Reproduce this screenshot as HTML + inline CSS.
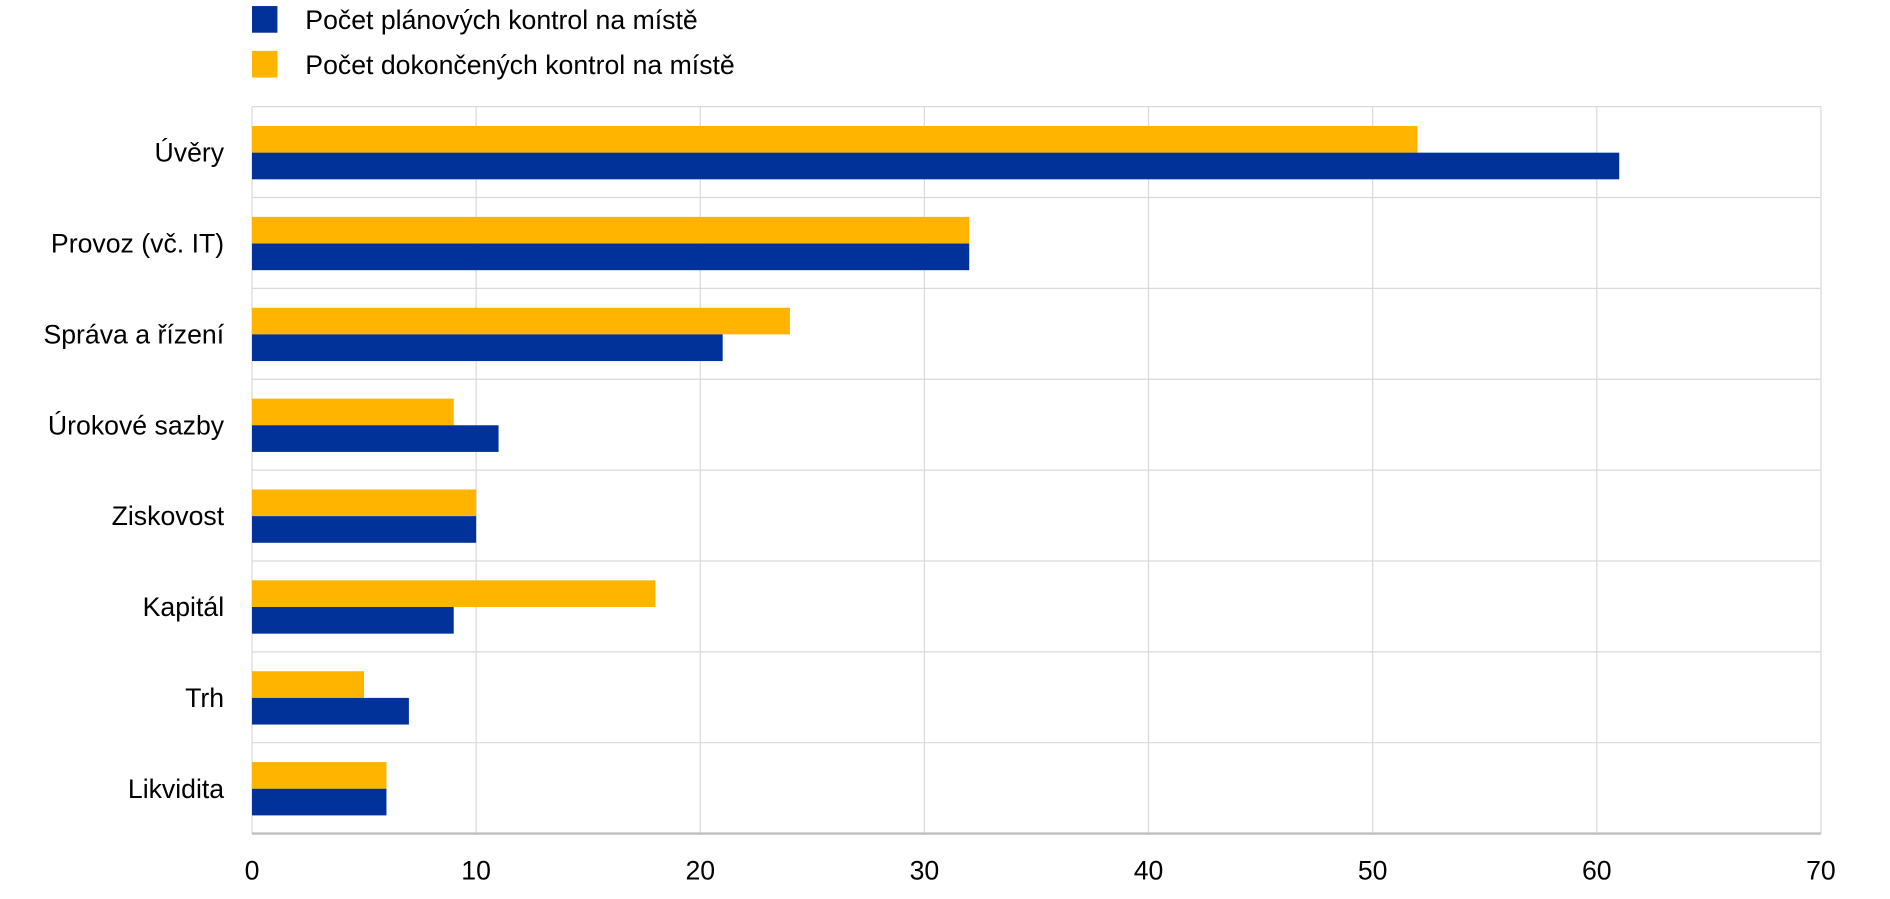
<!DOCTYPE html>
<html><head><meta charset="utf-8"><style>
html,body{margin:0;padding:0;background:#fff;}
svg{display:block;font-family:"Liberation Sans",Arial,sans-serif;}
</style></head><body>
<svg id="chart" width="1890" height="899" viewBox="0 0 1560 742" preserveAspectRatio="none" xmlns="http://www.w3.org/2000/svg">
<g id="legend">
  <rect x="208" y="5" width="21" height="22" fill="#003299"/>
  <text x="252" y="24" font-size="22" fill="#000">Počet plánových kontrol na místě</text>
  <rect x="208" y="42" width="21" height="22" fill="#FFB400"/>
  <text x="252" y="61" font-size="22" fill="#000">Počet dokončených kontrol na místě</text>
</g>
<g id="grid"></g><g id="bars"></g><g id="labels"></g>
</svg>
<script>
const categories=["Úvěry","Provoz (vč. IT)","Správa a řízení","Úrokové sazby","Ziskovost","Kapitál","Trh","Likvidita"];
const completed=[52,32,24,9,10,18,5,6];
const planned=[61,32,21,11,10,9,7,6];
const ticks=[0,10,20,30,40,50,60,70];
const L=208,R=1503,T=88,B=688,band=(B-T)/categories.length;
const x=v=>L+(v-0)/(70-0)*(R-L);
const NS="http://www.w3.org/2000/svg";
function mk(tag,attrs,parent){const e=document.createElementNS(NS,tag);for(const k in attrs)e.setAttribute(k,attrs[k]);document.getElementById(parent).appendChild(e);return e;}
ticks.forEach(t=>{
  const g=mk("line",{x1:x(t),x2:x(t),y1:T,y2:B,stroke:"#d9d9d9","stroke-width":1},"grid");
  
  
  const tl=mk("text",{x:x(t),y:726,"font-size":22,"text-anchor":"middle",fill:"#000"},"labels");
  tl.textContent=t;
  
  
});
for(let i=0;i<=categories.length;i++){
  const h=mk("line",{x1:L,x2:R,y1:T+i*band,y2:T+i*band,stroke:i==categories.length?"#bfbfbf":"#d9d9d9","stroke-width":i==categories.length?2:1},"grid");
  
  
}
categories.forEach((c,i)=>{
  const y0=T+i*band;
  const b1=mk("rect",{x:x(0),y:y0+16,width:x(completed[i])-x(0),height:22,fill:"#FFB400"},"bars");
  
  
  const b2=mk("rect",{x:x(0),y:y0+38,width:x(planned[i])-x(0),height:22,fill:"#003299"},"bars");
  
  
  const t=mk("text",{x:185,y:y0+band/2+8,"font-size":22,"text-anchor":"end",fill:"#000"},"labels");
  t.textContent=c;
  
  
});
</script>
</body></html>
